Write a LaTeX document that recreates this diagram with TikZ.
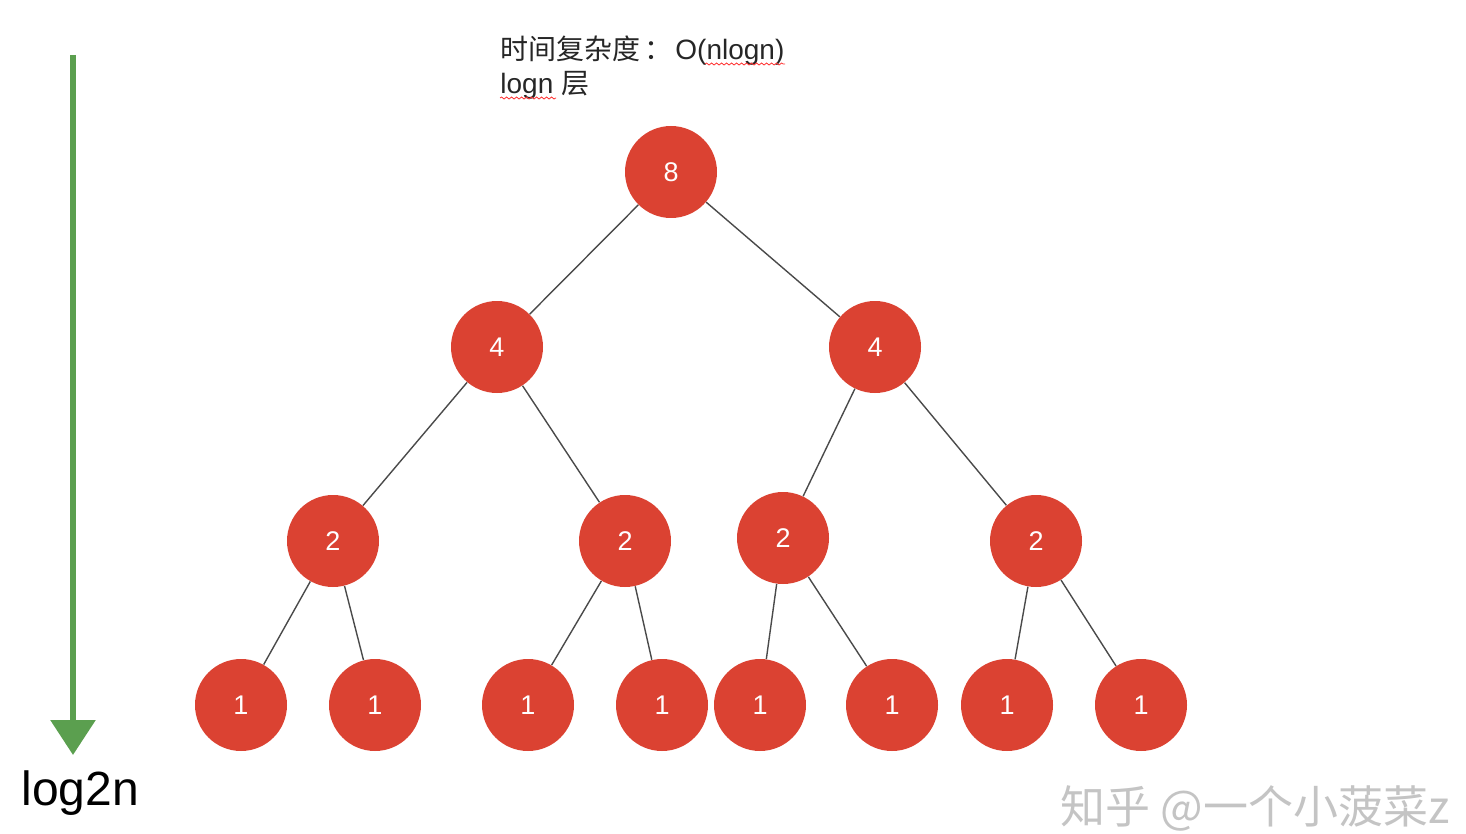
\documentclass[tikz,border=0pt]{standalone}
\usepackage{fontspec}
\setmainfont{Liberation Sans}
\newfontfamily\cjk{Noto Sans CJK SC}
\usetikzlibrary{arrows.meta,decorations.pathmorphing}
\definecolor{nodered}{HTML}{DB4232}
\definecolor{arrowgreen}{HTML}{5B9F4F}
\definecolor{edgegray}{HTML}{4A4A4A}
\definecolor{wmgray}{HTML}{C4C4C4}
\tikzset{
  tnode/.style={circle, fill=nodered, draw=none, minimum size=46pt, inner sep=0pt,
    text=white, font=\fontsize{13.5}{13.5}\selectfont},
  tedge/.style={draw=edgegray, line width=0.7pt},
  spell/.style={draw=red!80, line width=0.4pt, decorate,
    decoration={snake, amplitude=0.5pt, segment length=2.5pt}},
  toptext/.style={anchor=base west, inner sep=0pt, text=black!85, font=\fontsize{14}{14}\selectfont}
}
\begin{document}
\begin{tikzpicture}[x=0.5pt,y=-0.5pt]
\useasboundingbox (0,0) rectangle (1466,834);
% nodes
\node[tnode] (r) at (671,172) {8};
\node[tnode] (a) at (497,347) {4};
\node[tnode] (b) at (875,347) {4};
\node[tnode] (a1) at (333,541) {2};
\node[tnode] (a2) at (625,541) {2};
\node[tnode] (b1) at (783,538) {2};
\node[tnode] (b2) at (1036,541) {2};
\node[tnode] (l1) at (241,705) {1};
\node[tnode] (l2) at (375,705) {1};
\node[tnode] (l3) at (528,705) {1};
\node[tnode] (l4) at (662,705) {1};
\node[tnode] (l5) at (760,705) {1};
\node[tnode] (l6) at (892,705) {1};
\node[tnode] (l7) at (1007,705) {1};
\node[tnode] (l8) at (1141,705) {1};
% edges
\draw[tedge] (r) -- (a);
\draw[tedge] (r) -- (b);
\draw[tedge] (a) -- (a1);
\draw[tedge] (a) -- (a2);
\draw[tedge] (b) -- (b1);
\draw[tedge] (b) -- (b2);
\draw[tedge] (a1) -- (l1);
\draw[tedge] (a1) -- (l2);
\draw[tedge] (a2) -- (l3);
\draw[tedge] (a2) -- (l4);
\draw[tedge] (b1) -- (l5);
\draw[tedge] (b1) -- (l6);
\draw[tedge] (b2) -- (l7);
\draw[tedge] (b2) -- (l8);
% green arrow
\coordinate (as) at (73,55);
\coordinate (ae) at (73,755);
\draw[arrowgreen, line width=3pt, -{Triangle[width=22pt,length=17.5pt]}] (as) -- (ae);
\node[anchor=base west, inner sep=0pt, font=\fontsize{24}{24}\selectfont] (lg) at (21,805) {log2n};
% top text
\node[toptext] (t1) at (500,60) {{\cjk 时间复杂度}\hspace{2pt}{\cjk ：}\hspace{1.5pt}O(nlogn)};
\node[toptext] (t2) at (500,94) {logn {\cjk 层}};
\coordinate (s1a) at (705,64);
\coordinate (s1b) at (785,64);
\coordinate (s2a) at (500,98);
\coordinate (s2b) at (556,98);
\draw[spell] (s1a) -- (s1b);
\draw[spell] (s2a) -- (s2b);
% watermark
\node[anchor=base west, inner sep=0pt, text=wmgray, font=\cjk\fontsize{22.5}{22.5}\selectfont] (wm) at (1060,823) {知乎 @一个小菠菜z};
\end{tikzpicture}
\end{document}
